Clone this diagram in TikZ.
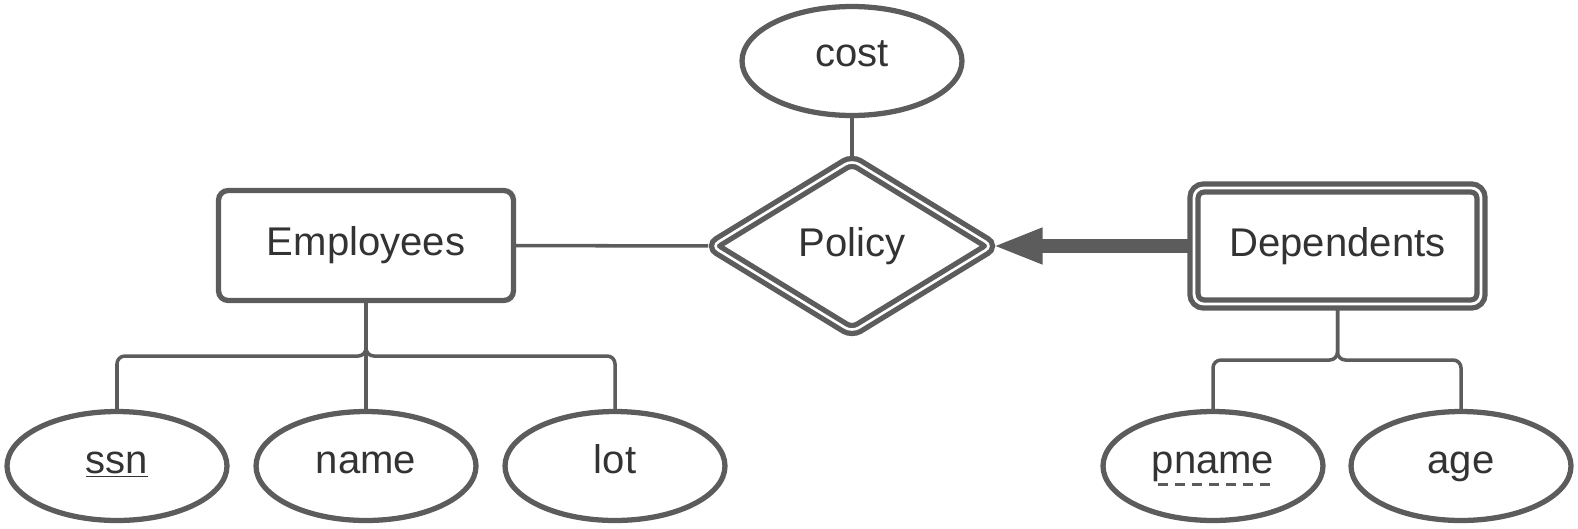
\documentclass[tikz,border=0pt]{standalone}
\usepackage{fontspec}
\setmainfont{Liberation Sans}
\usetikzlibrary{arrows.meta}
\usetikzlibrary{shapes.geometric}
\definecolor{mgray}{HTML}{5C5C5C}
\definecolor{mtext}{HTML}{333333}
\tikzset{label font/.style = {text=mtext, font=\fontsize{22.8}{27}\selectfont}}
\tikzset{attr/.style = {draw=mgray, line width=3pt, ellipse, inner sep=0,
                        minimum width=4.4cm, minimum height=2.18cm, label font,
                        text height=8pt, text depth=0pt}}
\tikzset{entity/.style = {draw=mgray, line width=3pt, rectangle, rounded corners=5.5pt,
                          inner sep=0, minimum width=5.9cm, minimum height=2.2cm, label font}}
\tikzset{weak/.style = {entity, line width=3pt, double, double distance=1.6pt,
                        minimum width=5.74cm, minimum height=2.32cm}}
\tikzset{rel/.style = {draw=mgray, line width=3pt, double, double distance=1.5pt, diamond,
                       rounded corners=4.5pt, inner sep=0, minimum width=5.66cm,
                       minimum height=3.48cm, label font}}
\tikzset{conn/.style = {draw=mgray, line width=2pt, rounded corners=4.5pt}}
\tikzset{heavy/.style = {draw=mgray, line width=8.5pt,
                         -{Triangle[length=1cm, width=0.66cm]}}}
\begin{document}
\begin{tikzpicture}[x=0.02cm, y=-0.02cm]
      \useasboundingbox (0, 0) rectangle (1578, 528);

      \node [attr, text height=5.7pt] (cost) at (852, 61) {cost};
      \node [rel] (pol) at (852, 246) {Policy};
      \node [entity] (emp) at (366, 245.5) {Employees};
      \node [weak] (dep) at (1337.5, 246) {Dependents};

      \node [attr] (ssn) at (117, 466) {\underline{ssn}};
      \node [attr] (name) at (366, 466) {name};
      \node [attr] (lot) at (615, 466) {lot};
      \node [attr] (pn) at (1213, 466) {pname};
      \node [attr] (age) at (1461, 466) {age};

      \coordinate (ej) at (366, 356);
      \coordinate (dj) at (1337.5, 360);

      \draw [conn] (cost) -- (pol);
      \draw [conn] (emp) -- (pol);
      \draw [heavy, shorten >=-2pt] (dep) -- (pol);

      \draw [conn] (emp.south) -- (ej) -| (ssn.north);
      \draw [conn] (emp.south) -- (ej) -| (lot.north);
      \draw [conn] (emp.south) -- (name.north);
      \draw [conn] (dep.south) -- (dj) -| (pn.north);
      \draw [conn] (dep.south) -- (dj) -| (age.north);

      \draw [draw=mgray, line width=1.7pt, dash pattern=on 5.7pt off 4pt]
        ([xshift=-1.1cm, yshift=-0.36cm] pn.center) -- ([xshift=1.2cm, yshift=-0.36cm] pn.center);
    \end{tikzpicture}
\end{document}
